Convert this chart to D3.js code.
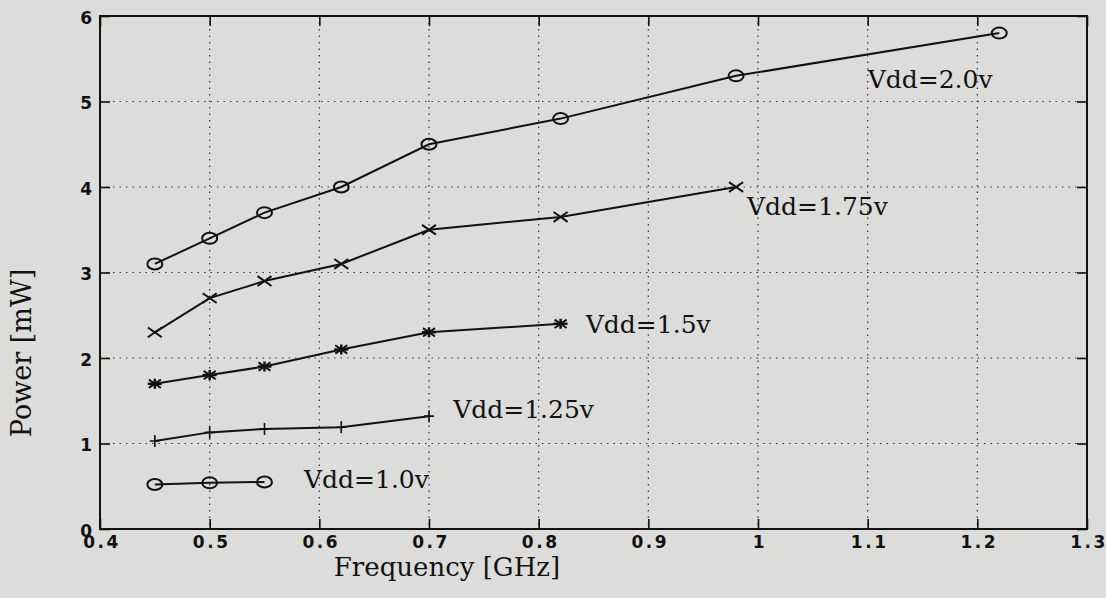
<!DOCTYPE html>
<html>
<head>
<meta charset="utf-8">
<script src="https://cdn.jsdelivr.net/npm/d3@7"></script>
<style>
  body { margin: 0; background: #dcdddb; }
  svg { display: block; }
</style>
</head>
<body>
<div id="chart"></div>
<script>
// frequency points (GHz) shared by all curves
var freqs = [0.45, 0.5, 0.55, 0.62, 0.7, 0.82, 0.98, 1.22];

// power (mW) per supply voltage
var vdd20 = [3.1, 3.4, 3.7, 4.0, 4.5, 4.8, 5.3, 5.8];
var vdd175 = [2.3, 2.7, 2.9, 3.1, 3.5, 3.65, 4.0];
var vdd15 = [1.7, 1.8, 1.9, 2.1, 2.3, 2.4];
var vdd125 = [1.03, 1.13, 1.17, 1.19, 1.32];
var vdd10 = [0.52, 0.54, 0.55];

var labels = ["Vdd=2.0v", "Vdd=1.75v", "Vdd=1.5v", "Vdd=1.25v", "Vdd=1.0v"];
var labelFreq = [1.1, 0.99, 0.843, 0.722, 0.586];
var labelPow = [5.16, 3.67, 2.29, 1.3, 0.48];
var markers = ["o", "x", "*", "+", "o"];

var xTicks = [0.4, 0.5, 0.6, 0.7, 0.8, 0.9, 1, 1.1, 1.2, 1.3];
var yTicks = [0, 1, 2, 3, 4, 5, 6];

var series = [vdd20, vdd175, vdd15, vdd125, vdd10];

var W = 1106, H = 598;
var m = { left: 100, top: 16, right: 19, bottom: 69 };

var svg = d3.select("#chart").append("svg")
    .attr("width", W)
    .attr("height", H);

svg.append("rect").attr("width", W).attr("height", H).attr("fill", "#dcdddb");

var x = d3.scaleLinear().domain([0.4, 1.3]).range([m.left, W - m.right]);
var y = d3.scaleLinear().domain([0, 6]).range([H - m.bottom, m.top]);

// dotted grid
var grid = svg.append("g")
    .attr("stroke", "#333")
    .attr("stroke-width", 1.2)
    .attr("stroke-dasharray", "1.5,5");
grid.selectAll(".gx").data(xTicks.slice(1, -1)).enter().append("line")
    .attr("x1", d => x(d)).attr("x2", d => x(d))
    .attr("y1", y(6)).attr("y2", y(0));
grid.selectAll(".gy").data(yTicks.slice(1, -1)).enter().append("line")
    .attr("y1", d => y(d)).attr("y2", d => y(d))
    .attr("x1", x(0.4)).attr("x2", x(1.3));

// axes with inward ticks on all four sides
var tickFont = function (g) {
    g.selectAll("text")
        .attr("font-family", "'DejaVu Sans', sans-serif")
        .attr("font-weight", "bold")
        .attr("font-size", 17)
        .attr("fill", "#111");
    g.select(".domain").remove();
    g.selectAll(".tick line").attr("stroke", "#111").attr("stroke-width", 1.6);
};

svg.append("g")
    .attr("transform", "translate(0," + y(0) + ")")
    .call(d3.axisBottom(x).tickValues(xTicks).tickSize(-10).tickPadding(7)
        .tickFormat(d => d === 1 ? "1" : d3.format(".1f")(d)))
    .call(tickFont)
    .selectAll("text").attr("dy", "0.71em").attr("letter-spacing", 2.5).attr("dx", 1.5);

svg.append("g")
    .attr("transform", "translate(" + x(0.4) + ",0)")
    .call(d3.axisLeft(y).tickValues(yTicks).tickSize(-10).tickPadding(8)
        .tickFormat(d3.format("d")))
    .call(tickFont)
    .selectAll("text").attr("dy", "0.42em");

svg.append("g")
    .attr("transform", "translate(0," + y(6) + ")")
    .call(d3.axisTop(x).tickValues(xTicks).tickSize(-10).tickFormat(""))
    .call(tickFont);

svg.append("g")
    .attr("transform", "translate(" + x(1.3) + ",0)")
    .call(d3.axisRight(y).tickValues(yTicks).tickSize(-10).tickFormat(""))
    .call(tickFont);

// frame
svg.append("rect")
    .attr("x", x(0.4)).attr("y", y(6))
    .attr("width", x(1.3) - x(0.4)).attr("height", y(0) - y(6))
    .attr("fill", "none")
    .attr("stroke", "#111")
    .attr("stroke-width", 2);

// curves
var line = d3.line()
    .x((d, i) => x(freqs[i]))
    .y(d => y(d));

var plot = svg.append("g");

series.forEach(function (vals, k) {
    plot.append("path")
        .datum(vals)
        .attr("d", line)
        .attr("fill", "none")
        .attr("stroke", "#111")
        .attr("stroke-width", 2);

    var g = plot.append("g")
        .attr("stroke", "#111")
        .attr("fill", "none")
        .attr("stroke-width", 2);

    var pts = g.selectAll("g").data(vals).enter().append("g")
        .attr("transform", (d, i) => "translate(" + x(freqs[i]) + "," + y(d) + ")");

    var mk = markers[k];
    if (mk === "o") {
        pts.append("ellipse").attr("rx", 7.5).attr("ry", 5.5);
    }
    if (mk === "x" || mk === "*") {
        var s = mk === "x" ? 7 : 6;
        pts.append("path").attr("d", "M" + (-s) + "," + (-s * 0.7) + "L" + s + "," + (s * 0.7) +
            "M" + (-s) + "," + (s * 0.7) + "L" + s + "," + (-s * 0.7));
    }
    if (mk === "*") {
        pts.append("path").attr("d", "M-7,0L7,0M0,-5L0,5").attr("stroke-width", 2.5);
    }
    if (mk === "+") {
        pts.append("path").attr("d", "M-5,0L5,0M0,-6L0,6").attr("stroke-width", 1.6);
    }
});

// curve labels
svg.append("g").selectAll("text").data(labels).enter().append("text")
    .attr("x", (d, i) => x(labelFreq[i]))
    .attr("y", (d, i) => y(labelPow[i]))
    .attr("font-family", "'DejaVu Serif', serif")
    .attr("font-size", 25)
    .attr("fill", "#111")
    .text(d => d);

// axis titles
svg.append("text")
    .attr("x", 447).attr("y", 576)
    .attr("text-anchor", "middle")
    .attr("font-family", "'DejaVu Serif', serif")
    .attr("font-size", 26)
    .attr("fill", "#111")
    .text("Frequency [GHz]");

svg.append("text")
    .attr("transform", "translate(31,353) rotate(-90)")
    .attr("text-anchor", "middle")
    .attr("font-family", "'DejaVu Serif', serif")
    .attr("font-size", 27)
    .attr("fill", "#111")
    .text("Power [mW]");
</script>
</body>
</html>
